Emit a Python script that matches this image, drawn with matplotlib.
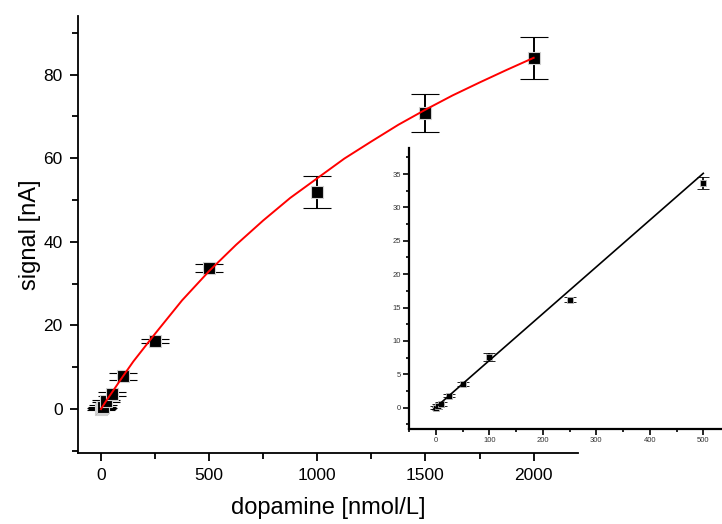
import matplotlib
matplotlib.use("Agg")
import matplotlib.pyplot as plt
from matplotlib.ticker import MultipleLocator

plt.rcParams['font.family'] = ['Liberation Sans', 'DejaVu Sans']

# Calibration data: dopamine concentration vs. signal
conc = [0, 5, 10, 25, 50, 100, 250, 500, 1000, 1500, 2000]
signal = [0.0, 0.3, 0.6, 1.9, 3.6, 7.8, 16.3, 33.8, 52.0, 70.8, 84.0]
signal_err = [0.3, 0.3, 0.3, 0.3, 0.4, 0.8, 0.5, 1.0, 3.8, 4.5, 5.0]

# Nonlinear fit over full range
fit_x = [0, 25, 50, 100, 150, 250, 375, 500, 625, 750, 875, 1000,
         1125, 1250, 1375, 1500, 1625, 1750, 1875, 2000]
fit_y = [0.0, 2.0, 3.9, 7.7, 11.4, 18.0, 26.0, 33.0, 39.3, 45.1, 50.5, 55.2,
         59.9, 64.0, 68.0, 71.6, 75.0, 78.1, 81.1, 84.0]

# Low-concentration subset (linear range)
low_conc = [0, 5, 10, 25, 50, 100, 250, 500]
low_signal = [0.0, 0.3, 0.6, 1.8, 3.5, 7.6, 16.2, 33.6]
low_err = [0.2, 0.2, 0.3, 0.2, 0.3, 0.6, 0.3, 0.9]
lin_x = [-5, 500]
lin_y = [-0.3, 35.1]

fig = plt.figure(figsize=(7.22, 5.24), dpi=100)

ax = fig.add_axes([0.108, 0.1355, 0.6926, 0.834])
ax.errorbar(conc, signal, yerr=signal_err, fmt='s', color='black',
            mfc='black', mec='#d0d0d0', mew=0.8, ms=8.5,
            ecolor='black', elinewidth=1.4, capsize=10, capthick=1.4, zorder=2)
ax.plot(fit_x, fit_y, color='red', lw=1.4, zorder=3)

ax.set_xlim(-106, 2205)
ax.set_ylim(-10.5, 94)
ax.xaxis.set_major_locator(MultipleLocator(500))
ax.xaxis.set_minor_locator(MultipleLocator(250))
ax.yaxis.set_major_locator(MultipleLocator(20))
ax.yaxis.set_minor_locator(MultipleLocator(10))
for s in ('top', 'right'):
    ax.spines[s].set_visible(False)
for s in ('left', 'bottom'):
    ax.spines[s].set_linewidth(1.3)
ax.tick_params(which='major', direction='out', length=6, width=1.3,
               labelsize=12.5, pad=5)
ax.tick_params(which='minor', direction='out', length=4, width=1.3)
ax.set_xlabel('dopamine [nmol/L]', fontsize=17, labelpad=10)
ax.set_ylabel('signal [nA]', fontsize=17, labelpad=2)

ins = fig.add_axes([0.5665, 0.1813, 0.4335, 0.5363])
ins.patch.set_alpha(0)
ins.errorbar(low_conc, low_signal, yerr=low_err, fmt='s', color='black',
             mfc='black', mec='#bbbbbb', mew=0.6, ms=4,
             ecolor='black', elinewidth=1.2, capsize=4.5, capthick=1.2, zorder=2)
ins.plot(lin_x, lin_y, color='black', lw=1.2, zorder=3)
ins.set_xlim(-50, 535)
ins.set_ylim(-3.2, 38.9)
ins.xaxis.set_major_locator(MultipleLocator(100))
ins.xaxis.set_minor_locator(MultipleLocator(50))
ins.yaxis.set_major_locator(MultipleLocator(5))
ins.yaxis.set_minor_locator(MultipleLocator(2.5))
for s in ('top', 'right'):
    ins.spines[s].set_visible(False)
for s in ('left', 'bottom'):
    ins.spines[s].set_linewidth(1.6)
ins.tick_params(which='major', direction='out', length=4, width=1.2,
                labelsize=5.5, labelcolor='#333333', pad=2)
ins.tick_params(which='minor', direction='out', length=2.5, width=1.2)

fig.savefig('out.png', dpi=100)
